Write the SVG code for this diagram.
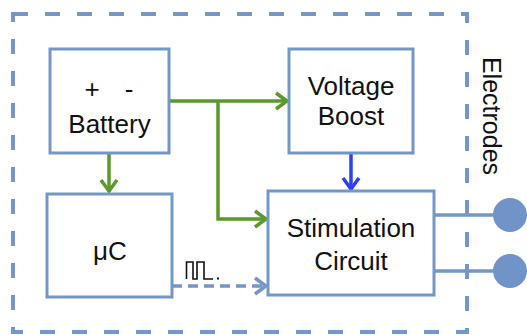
<svg xmlns="http://www.w3.org/2000/svg" width="527" height="335" viewBox="0 0 527 335">
<style>
.box{fill:#fff;stroke:#7397c9;stroke-width:3}
.lbl{font-family:"Liberation Sans",Arial,sans-serif;font-size:26px;fill:#111;text-anchor:middle}
.g{stroke:#5a992b;stroke-width:3.5;fill:none}
.b{stroke:#2b40f0;stroke-width:3.5;fill:none}
.lb{stroke:#7397c9;stroke-width:3.5;fill:none}
</style>
<defs>
<marker id="ag" markerUnits="userSpaceOnUse" markerWidth="20" markerHeight="20" viewBox="-16 -10 20 20" refX="0" refY="0" orient="auto">
<path d="M-12,-8 L-1,0 L-12,8" fill="none" stroke="#5a992b" stroke-width="3.5"/>
</marker>
<marker id="ab" markerUnits="userSpaceOnUse" markerWidth="20" markerHeight="20" viewBox="-16 -10 20 20" refX="0" refY="0" orient="auto">
<path d="M-12,-8 L-1,0 L-12,8" fill="none" stroke="#2b40f0" stroke-width="3.5"/>
</marker>
<marker id="al" markerUnits="userSpaceOnUse" markerWidth="20" markerHeight="20" viewBox="-16 -10 20 20" refX="0" refY="0" orient="auto">
<path d="M-12,-8 L-1,0 L-12,8" fill="none" stroke="#7397c9" stroke-width="3.5"/>
</marker>
</defs>
<rect id="boundary" x="13" y="14" width="454" height="318" fill="none" stroke="#7397c9" stroke-width="4" stroke-dasharray="15 17"/>
<text class="lbl" transform="translate(483,116) rotate(90)" style="font-size:25px">Electrodes</text>
<g id="connectors">
<polyline class="g" points="169,101 288,101" marker-end="url(#ag)"/>
<polyline class="g" points="218,101 218,219 267,219" marker-end="url(#ag)"/>
<polyline class="g" points="109,153 109,192" marker-end="url(#ag)"/>
<polyline class="b" points="351,153 351,190" marker-end="url(#ab)"/>
<polyline class="lb" points="172,286 267,286" stroke-dasharray="10 6" marker-end="url(#al)"/>
<line class="lb" x1="434" y1="215" x2="505" y2="215"/>
<line class="lb" x1="434" y1="271" x2="505" y2="271"/>
</g>
<g id="pulse">
<polyline points="186.5,279 186.5,262 193,262 193,279 197,279 197,262 204,262 204,279 213,279" fill="none" stroke="#111" stroke-width="1.6"/>
<rect x="217" y="277.5" width="2" height="2" fill="#111"/>
</g>
<g id="battery">
<rect class="box" x="50" y="49" width="119" height="104"/>
<text class="lbl"><tspan x="92" y="98">+</tspan><tspan x="129" y="98">-</tspan></text>
<text class="lbl" x="109.5" y="133">Battery</text>
</g>
<g id="voltage-boost">
<rect class="box" x="289" y="49" width="124" height="104"/>
<text class="lbl" x="351" y="95">Voltage</text>
<text class="lbl" x="351" y="125">Boost</text>
</g>
<g id="uc">
<rect class="box" x="47" y="194" width="125" height="103"/>
<text class="lbl" x="110" y="260">μC</text>
</g>
<g id="stimulation-circuit">
<rect class="box" x="268" y="191" width="166" height="104"/>
<text class="lbl" x="351" y="237">Stimulation</text>
<text class="lbl" x="351" y="270">Circuit</text>
</g>
<g id="electrode-1"><circle cx="510" cy="215" r="17" fill="#7094c8"/></g>
<g id="electrode-2"><circle cx="510" cy="271" r="17" fill="#7094c8"/></g>
</svg>
